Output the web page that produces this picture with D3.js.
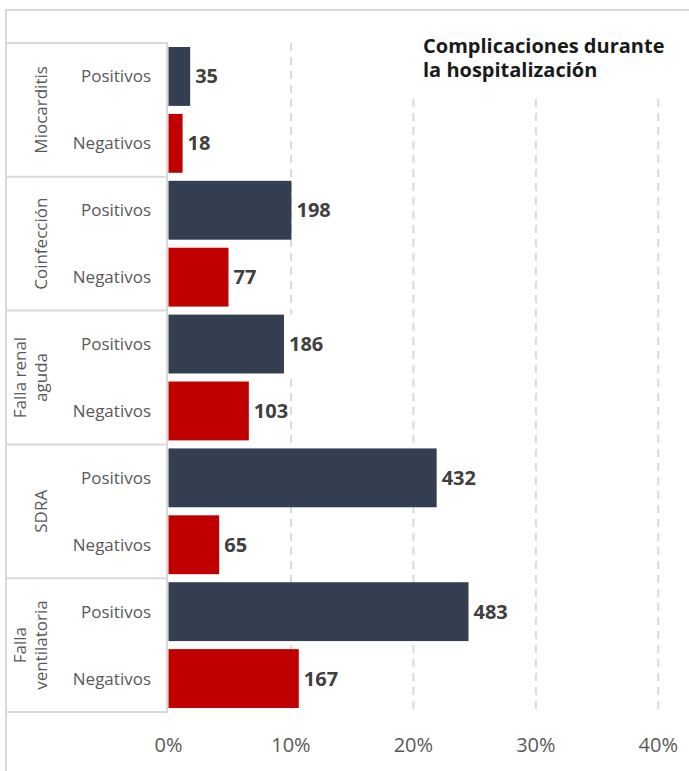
<!DOCTYPE html>
<html>
<head>
<meta charset="utf-8">
<script src="https://cdn.jsdelivr.net/npm/d3@7"></script>
<style>
  body { margin: 0; background: #fff; }
  svg { display: block; font-family: "Open Sans", sans-serif; }
</style>
</head>
<body>
<svg id="chart" width="689" height="771"></svg>
<script>
// grupos y series
var groups = ["Miocarditis", "Coinfección", "Falla renal aguda", "SDRA", "Falla ventilatoria"];
var groupLines = [["Miocarditis"], ["Coinfección"], ["Falla renal", "aguda"], ["SDRA"], ["Falla", "ventilatoria"]];
var series = ["Positivos", "Negativos"];
// porcentaje de cada grupo (%)
var pctPos = [1.77, 10.04, 9.43, 21.9, 24.5];
var pctNeg = [1.15, 4.9, 6.56, 4.14, 10.64];
// numero de casos (etiquetas)
var nPos = [35, 198, 186, 432, 483];
var nNeg = [18, 77, 103, 65, 167];
var xTicks = [0, 10, 20, 30, 40];
var colors = {Positivos: "#333f50", Negativos: "#c00000"};

var rows = [];
groups.forEach(function(g, i) {
  rows.push({group: g, serie: "Positivos", pct: pctPos[i], n: nPos[i]});
  rows.push({group: g, serie: "Negativos", pct: pctNeg[i], n: nNeg[i]});
});

var svg = d3.select("#chart");
var plotTop = 43, plotBottom = 712, tableLeft = 6, tableRight = 167;

var x = d3.scaleLinear().domain([0, 40]).range([168.5, 658.3]);
var y = d3.scaleBand()
  .domain(rows.map(function(d) { return d.group + "|" + d.serie; }))
  .range([plotTop, plotBottom])
  .paddingInner(0.12)
  .paddingOuter(0.06);
var yg = d3.scaleBand().domain(groups).range([plotTop, plotBottom]);

// marco exterior
svg.append("path")
  .attr("d", "M6,771V10H689")
  .attr("fill", "none")
  .attr("stroke", "#d9d9d9")
  .attr("stroke-width", 2);

// lineas de division
var grid = svg.append("g");
grid.selectAll("line")
  .data(xTicks.slice(1))
  .enter().append("line")
  .attr("x1", function(d) { return x(d); })
  .attr("x2", function(d) { return x(d); })
  .attr("y1", plotTop)
  .attr("y2", plotBottom)
  .attr("stroke", "#d9d9d9")
  .attr("stroke-width", 2)
  .attr("stroke-dasharray", "8,6");

// tabla de categorias
var table = svg.append("g");
table.selectAll("line.h")
  .data(groups.map(function(g) { return yg(g); }).concat([plotBottom]))
  .enter().append("line")
  .attr("class", "h")
  .attr("x1", tableLeft)
  .attr("x2", tableRight)
  .attr("y1", function(d) { return d; })
  .attr("y2", function(d) { return d; })
  .attr("stroke", "#d9d9d9")
  .attr("stroke-width", 2);
table.append("line")
  .attr("x1", tableRight).attr("x2", tableRight)
  .attr("y1", plotTop - 1).attr("y2", plotBottom + 1)
  .attr("stroke", "#d9d9d9")
  .attr("stroke-width", 2);

// nombres de grupo (rotados)
groups.forEach(function(g, i) {
  var cy = yg(g) + yg.bandwidth() / 2;
  var lines = groupLines[i];
  var t = svg.append("text")
    .attr("transform", "translate(" + (lines.length > 1 ? 26 : 47) + "," + cy + ") rotate(-90)")
    .attr("text-anchor", "middle")
    .attr("fill", "#595959")
    .style("font-size", "17px");
  lines.forEach(function(l, j) {
    t.append("tspan").attr("x", 0).attr("dy", j === 0 ? 0 : 21).text(l);
  });
});

// nombres de serie
svg.append("g").selectAll("text")
  .data(rows)
  .enter().append("text")
  .attr("x", 151)
  .attr("y", function(d) { return y(d.group + "|" + d.serie) + y.bandwidth() / 2; })
  .attr("dy", "0.35em")
  .attr("text-anchor", "end")
  .attr("fill", "#595959")
  .style("font-size", "17px")
  .text(function(d) { return d.serie; });

// barras
svg.append("g").selectAll("rect")
  .data(rows)
  .enter().append("rect")
  .attr("x", x(0))
  .attr("y", function(d) { return y(d.group + "|" + d.serie); })
  .attr("width", function(d) { return x(d.pct) - x(0); })
  .attr("height", y.bandwidth())
  .attr("fill", function(d) { return colors[d.serie]; });

// etiquetas de valor (con fondo blanco como en Excel)
var lab = svg.append("g").selectAll("g")
  .data(rows)
  .enter().append("g")
  .attr("transform", function(d) {
    return "translate(" + (x(d.pct) + 4) + "," + (y(d.group + "|" + d.serie) + y.bandwidth() / 2) + ")";
  });
var bg = lab.append("rect")
  .attr("x", 0)
  .attr("y", -y.bandwidth() / 2)
  .attr("height", y.bandwidth())
  .attr("fill", "#fff");
var txt = lab.append("text")
  .attr("x", 1)
  .attr("dy", "0.35em")
  .attr("fill", "#404040")
  .style("font-size", "20px")
  .style("font-weight", "bold")
  .text(function(d) { return d.n; });
bg.attr("width", function(d, i) { return txt.nodes()[i].getComputedTextLength() + 1; });

// eje x
svg.append("g").selectAll("text")
  .data(xTicks)
  .enter().append("text")
  .attr("x", function(d) { return x(d); })
  .attr("y", 752)
  .attr("text-anchor", "middle")
  .attr("fill", "#595959")
  .style("font-size", "20px")
  .text(function(d) { return d + "%"; });

// titulo
svg.append("rect")
  .attr("x", 330).attr("y", 12)
  .attr("width", 359).attr("height", 86)
  .attr("fill", "#fff");
var title = svg.append("text")
  .attr("x", 423)
  .attr("y", 53)
  .attr("fill", "#1a1a1a")
  .style("font-size", "20px")
  .style("font-weight", "bold");
title.append("tspan").attr("x", 423).text("Complicaciones durante");
title.append("tspan").attr("x", 423).attr("dy", 24).text("la hospitalización");
</script>
</body>
</html>
